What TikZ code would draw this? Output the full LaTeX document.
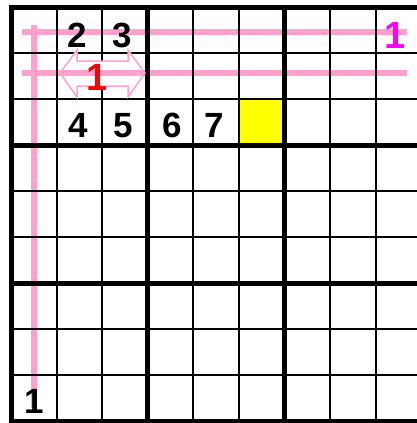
\documentclass[tikz,border=0pt]{standalone}
\usepackage{fontspec}
\setmainfont{Liberation Sans}
\definecolor{pinkline}{RGB}{255,160,205}
\definecolor{mag}{RGB}{255,0,255}
\definecolor{yel}{RGB}{255,255,0}
\begin{document}
\begin{tikzpicture}[x=1pt,y=-1pt,
  thin grid/.style={line width=2pt,black},
  thick grid/.style={line width=5pt,black},
  pinkstroke/.style={line width=5.5pt,pinkline},
  digit/.style={anchor=base,inner sep=0pt,font=\fontsize{35}{35}\selectfont\bfseries},
  bigone/.style={anchor=base,inner sep=0pt,font=\fontsize{38}{38}\selectfont\bfseries}]
\useasboundingbox (0,0) rectangle (417,423);
\fill[white] (0,0) rectangle (417,423);
% yellow cell
\fill[yel] (239,99) rectangle (284.6,145);
% pink lines
\coordinate (h1a) at (22,32); \coordinate (h1b) at (407,32);
\coordinate (h2a) at (22,73); \coordinate (h2b) at (407,73);
\coordinate (v1a) at (34,25); \coordinate (v1b) at (34,408);
\draw[pinkstroke] (h1a) -- (h1b);
\draw[pinkstroke] (h2a) -- (h2b);
\draw[pinkstroke] (v1a) -- (v1b);
% grid
\foreach \k in {1,2,4,5,7,8} {
  \draw[thin grid] ({11+45.6*\k},7) -- ({11+45.6*\k},421);
  \draw[thin grid] (11,{7+46*\k}) -- (430,{7+46*\k});
}
\foreach \k in {0,3,6} {
  \draw[thick grid] ({11+45.6*\k},4.5) -- ({11+45.6*\k},423.5);
  \draw[thick grid] (8.5,{7+46*\k}) -- (430,{7+46*\k});
}
\draw[thick grid] (8.5,421) -- (430,421);
% double arrow
\draw[pinkline,line width=1.5pt,fill=white]
  (60,73) -- (77,50) -- (77,61) -- (128,61) -- (128,50) -- (145,73)
  -- (128,97) -- (128,86) -- (77,86) -- (77,97) -- cycle;
\draw[pinkstroke] (60,73) -- (145,73);
% digits
\node[digit] (d2) at (77,47) {2};
\node[digit] (d3) at (122,47) {3};
\node[digit] (d4) at (78,137) {4};
\node[digit] (d5) at (123,137) {5};
\node[digit] (d6) at (172,137) {6};
\node[digit] (d7) at (214,137) {7};
\node[bigone,red] (r1) at (97,90) {1};
\node[bigone,mag] (m1) at (395,48) {1};
\node[digit] (b1) at (34,413) {1};
\end{tikzpicture}
\end{document}
